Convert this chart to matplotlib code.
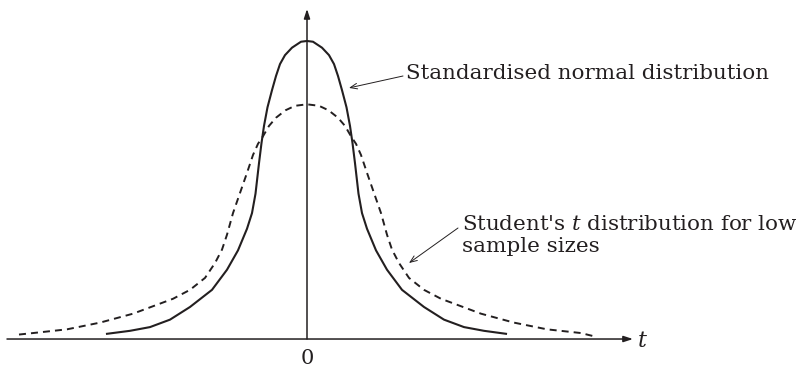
import numpy as np
import matplotlib
matplotlib.use('Agg')
import matplotlib.pyplot as plt

# curves (t in arbitrary units, density)
normal_t = [-4.0, -3.54, -3.14, -2.74, -2.34, -1.9, -1.6, -1.38, -1.2, -1.1, -1.03, -0.96,
            -0.91, -0.86, -0.79, -0.7, -0.62, -0.54, -0.44, -0.3, -0.12, 0.0,
            0.12, 0.3, 0.44, 0.54, 0.62, 0.7, 0.79, 0.86, 0.91, 0.96, 1.03, 1.1, 1.2,
            1.38, 1.6, 1.9, 2.34, 2.74, 3.14, 3.54, 3.98]
normal_y = [0.007, 0.011, 0.016, 0.026, 0.043, 0.066, 0.093, 0.119, 0.148, 0.169, 0.195, 0.236,
            0.263, 0.286, 0.311, 0.334, 0.353, 0.369, 0.381, 0.391, 0.399, 0.400,
            0.399, 0.391, 0.381, 0.369, 0.353, 0.334, 0.311, 0.286, 0.263, 0.236, 0.195, 0.169, 0.148,
            0.119, 0.093, 0.066, 0.043, 0.026, 0.016, 0.011, 0.007]

student_t = [-5.76, -5.48, -4.8, -4.14, -3.48, -3.0, -2.68, -2.34, -2.04, -1.84, -1.7, -1.6,
             -1.48, -1.34, -1.2, -1.08, -0.98, -0.89, -0.76, -0.62, -0.43, -0.24, 0.0,
             0.24, 0.43, 0.62, 0.76, 0.89, 0.98, 1.08, 1.2, 1.34, 1.48, 1.6,
             1.7, 1.84, 2.04, 2.34, 2.68, 3.0, 3.48, 4.14, 4.8, 5.48, 5.72]
student_y = [0.006, 0.008, 0.013, 0.022, 0.034, 0.046, 0.054, 0.066, 0.082, 0.102, 0.120, 0.140,
             0.169, 0.196, 0.223, 0.247, 0.262, 0.271, 0.286, 0.297, 0.307, 0.313, 0.315,
             0.313, 0.307, 0.297, 0.286, 0.271, 0.262, 0.247, 0.223, 0.196, 0.169, 0.140,
             0.120, 0.102, 0.082, 0.066, 0.054, 0.046, 0.034, 0.022, 0.013, 0.008, 0.004]

LABEL_NORMAL  = 'Standardised normal distribution'
LABEL_STUDENT = "Student's $t$ distribution for low\nsample sizes"

INK = '#231f20'
plt.rcParams['font.family'] = ['DejaVu Serif']
plt.rcParams['mathtext.fontset'] = 'custom'
plt.rcParams['mathtext.rm'] = 'DejaVu Serif'
plt.rcParams['mathtext.it'] = 'DejaVu Serif:italic'

fig = plt.figure(figsize=(7.99, 3.68), dpi=100)
ax  = fig.add_axes([0, 0, 1, 1])
ax.set_xlim(-6.14, 9.84)
ax.set_ylim(-0.0389, 0.455)
ax.axis('off')

# axes with arrowheads
head = dict(arrowstyle='-|>,head_length=0.55,head_width=0.18', lw=1.1, color=INK,
            shrinkA=0, shrinkB=0)
ax.annotate('', xy=(6.52, 0), xytext=(-6.0, 0), arrowprops=head)
ax.annotate('', xy=(0, 0.443), xytext=(0, 0.0), arrowprops=head)

ax.plot(normal_t, normal_y, color=INK, lw=1.5, solid_joinstyle='round')
ax.plot(student_t, student_y, color=INK, lw=1.4, dashes=(3.6, 2.6))

ax.text(6.62, -0.003, 't', style='italic', fontsize=16, color=INK, va='center', ha='left')
ax.text(0, -0.014, '0', fontsize=15, color=INK, ha='center', va='top')

# labels with thin pointer arrows
thin = dict(arrowstyle='->,head_length=0.5,head_width=0.2', lw=0.7, color=INK,
            shrinkA=0, shrinkB=0)
ax.annotate('', xy=(0.84, 0.337), xytext=(1.92, 0.353), arrowprops=thin)
ax.text(1.98, 0.356, LABEL_NORMAL, fontsize=15.4, color=INK, va='center', ha='left')

ax.annotate('', xy=(2.04, 0.102), xytext=(3.02, 0.149), arrowprops=thin)
ax.text(3.1, 0.166, LABEL_STUDENT, fontsize=15.4, color=INK, va='top', ha='left',
        linespacing=1.2)

fig.savefig('out.png', dpi=100, facecolor='white')
